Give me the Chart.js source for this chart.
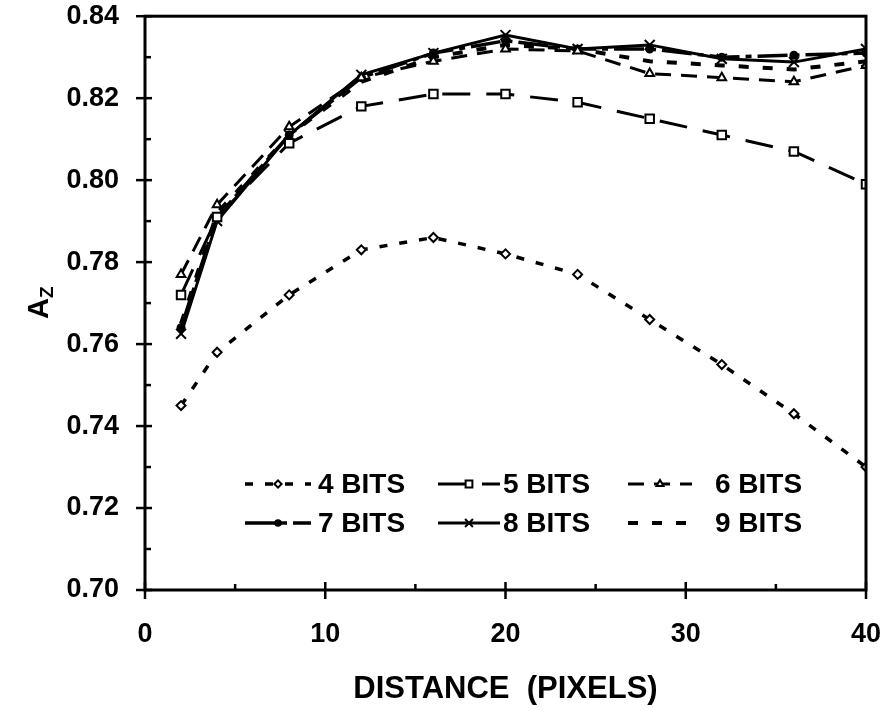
<!DOCTYPE html>
<html>
<head>
<meta charset="utf-8">
<script src="https://cdn.jsdelivr.net/npm/chart.js@4/dist/chart.umd.min.js"></script>
<style>
  html, body { margin: 0; padding: 0; background: #fff; }
  #wrap { width: 884px; height: 711px; }
</style>
</head>
<body>
<div id="wrap"><canvas id="myChart" width="884" height="711"></canvas></div>
<script>
// distance in pixels
var distances = [2, 4, 8, 12, 16, 20, 24, 28, 32, 36, 40];
// Az values
var bits4 = [0.745, 0.758, 0.772, 0.783, 0.786, 0.782, 0.777, 0.766, 0.755, 0.743, 0.730];
var bits5 = [0.772, 0.791, 0.809, 0.818, 0.821, 0.821, 0.819, 0.815, 0.811, 0.807, 0.799];
var bits6 = [0.777, 0.794, 0.813, 0.825, 0.829, 0.832, 0.8315, 0.826, 0.825, 0.824, 0.828];
var bits7 = [0.764, 0.791, 0.811, 0.825, 0.831, 0.834, 0.832, 0.832, 0.830, 0.8305, 0.831];
var bits8 = [0.7625, 0.790, 0.811, 0.8257, 0.831, 0.8354, 0.832, 0.833, 0.8296, 0.8288, 0.832];
var bits9 = [0.765, 0.792, 0.811, 0.824, 0.830, 0.833, 0.832, 0.829, 0.828, 0.827, 0.829];
var seriesNames = ['4 BITS', '5 BITS', '6 BITS', '7 BITS', '8 BITS', '9 BITS'];
var xTicks = [0, 10, 20, 30, 40];
var yTicks = [0.70, 0.72, 0.74, 0.76, 0.78, 0.80, 0.82, 0.84];

function pts(vals) {
  return vals.map(function (v, i) { return { x: distances[i], y: v }; });
}

var FONT = '"Liberation Sans", Arial, sans-serif';

var styles = [
  { dash: [8, 12], width: 3.5, point: 'rectRot', r: 4.5, fill: '#fff' },
  { dash: [28, 16], width: 3, point: 'rect', r: 6, fill: '#fff' },
  { dash: [16, 10], width: 3, point: 'triangle', r: 5, fill: '#fff' },
  { dash: [30, 6, 6, 6], width: 3.5, point: 'circle', r: 3.5, fill: '#000' },
  { dash: [], width: 3, point: 'crossRot', r: 7, fill: '#fff' },
  { dash: [10, 14], width: 4, point: false, r: 0, fill: '#000' }
];
var allData = [bits4, bits5, bits6, bits7, bits8, bits9];

var datasets = allData.map(function (vals, i) {
  var s = styles[i];
  return {
    label: seriesNames[i],
    data: pts(vals),
    borderColor: '#000',
    borderWidth: s.width,
    borderDash: s.dash,
    backgroundColor: s.fill,
    pointStyle: s.point,
    pointRadius: s.r,
    pointBorderWidth: 2,
    pointBackgroundColor: s.fill,
    pointBorderColor: '#000',
    tension: 0,
    fill: false
  };
});

// axes box, tick marks, y title, legend
var decor = {
  id: 'decor',
  afterDatasetsDraw: function (chart) {
    var c = chart.ctx, a = chart.chartArea;
    var xs = chart.scales.x, ys = chart.scales.y;
    c.save();
    c.strokeStyle = '#000';
    c.setLineDash([]);
    c.lineWidth = 3;
    c.strokeRect(a.left, a.top, a.right - a.left, a.bottom - a.top);
    c.lineWidth = 2.5;
    // y ticks
    for (var v = 0.70; v <= 0.8401; v += 0.01) {
      var py = ys.getPixelForValue(v);
      var major = Math.round(v * 100) % 2 === 0;
      c.beginPath();
      if (major) { c.moveTo(a.left - 9, py); c.lineTo(a.left + 7, py); }
      else { c.moveTo(a.left, py); c.lineTo(a.left + 6, py); }
      c.stroke();
    }
    // x ticks
    for (var d = 0; d <= 40; d += 5) {
      var px = xs.getPixelForValue(d);
      c.beginPath();
      if (d % 10 === 0) { c.moveTo(px, a.bottom + 9); c.lineTo(px, a.bottom - 8); }
      else { c.moveTo(px, a.bottom); c.lineTo(px, a.bottom - 6); }
      c.stroke();
    }
    // y title A_Z
    c.fillStyle = '#000';
    c.translate(38, 302);
    c.rotate(-Math.PI / 2);
    c.textBaseline = 'alphabetic';
    c.textAlign = 'left';
    c.font = 'bold 29px ' + FONT;
    var w = c.measureText('A').width;
    c.fillText('A', -17, 10);
    c.font = 'bold 19px ' + FONT;
    c.fillText('Z', -17 + w, 15);
    c.restore();

    // legend
    var cols = [[245, 311, 318], [438, 500, 503], [628, 692, 715]];
    var rows = [484, 523];
    c.save();
    c.font = 'bold 28px ' + FONT;
    c.textBaseline = 'middle';
    c.fillStyle = '#000';
    chart.data.datasets.forEach(function (ds, i) {
      var col = cols[i % 3], y = rows[Math.floor(i / 3)];
      c.strokeStyle = '#000';
      c.lineWidth = ds.borderWidth;
      c.setLineDash(ds.borderDash);
      c.beginPath();
      c.moveTo(col[0], y);
      c.lineTo(col[1], y);
      c.stroke();
      c.setLineDash([]);
      if (ds.pointStyle) {
        c.lineWidth = 2;
        c.fillStyle = ds.pointBackgroundColor;
        Chart.helpers.drawPoint(c, { pointStyle: ds.pointStyle, radius: ds.pointRadius * 0.8, rotation: 0, borderWidth: 2 }, (col[0] + col[1]) / 2, y);
      }
      c.fillStyle = '#000';
      c.fillText(ds.label, col[2], y + 1);
    });
    c.restore();
  }
};

var clear = 'rgba(0,0,0,0)';

var ctx = document.getElementById('myChart').getContext('2d');
var myChart = new Chart(ctx, {
  type: 'line',
  data: { datasets: datasets },
  options: {
    responsive: false,
    animation: false,
    layout: { padding: { left: 0, right: 18, top: 14, bottom: 0 } },
    plugins: { legend: { display: false }, tooltip: { enabled: false } },
    scales: {
      x: {
        type: 'linear',
        min: 0, max: 40,
        afterFit: function (s) { s.height = 121; },
        afterBuildTicks: function (s) { s.ticks = xTicks.map(function (v) { return { value: v }; }); },
        grid: { color: clear, drawOnChartArea: false, drawTicks: true, tickLength: 28 },
        border: { display: false },
        ticks: { color: '#000', padding: 0, font: { family: FONT, size: 27, weight: 'bold' } },
        title: {
          display: true,
          text: 'DISTANCE  (PIXELS)',
          color: '#000',
          padding: { top: 0, bottom: 3 },
          font: { family: FONT, size: 31, weight: 'bold' }
        }
      },
      y: {
        min: 0.70, max: 0.84,
        afterFit: function (s) { s.width = 145; },
        afterBuildTicks: function (s) { s.ticks = yTicks.map(function (v) { return { value: v }; }); },
        grid: { color: clear, drawOnChartArea: false, drawTicks: true, tickLength: 26 },
        border: { display: false },
        ticks: {
          color: '#000', padding: 0,
          font: { family: FONT, size: 27, weight: 'bold' },
          callback: function (v) { return v.toFixed(2); }
        }
      }
    }
  },
  plugins: [decor]
});
</script>
</body>
</html>
